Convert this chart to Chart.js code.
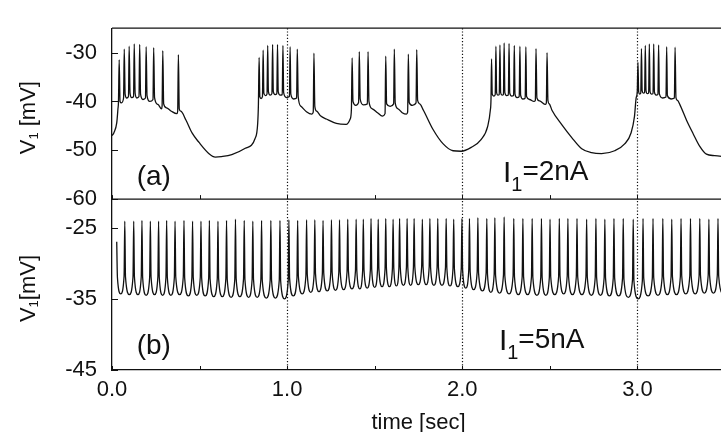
<!DOCTYPE html>
<html><head><meta charset="utf-8">
<script src="https://cdn.jsdelivr.net/npm/chart.js@4/dist/chart.umd.min.js"></script>
<style>html,body{margin:0;padding:0;background:#fff;overflow:hidden;width:721px;height:432px}canvas{display:block}</style>
</head><body>
<canvas id="c" width="732" height="432"></canvas>
<script>
// ---- data ----
const xTickLabels = [0, 1, 2, 3];           // labelled time ticks (sec)
const dottedTimes = [1, 2, 3];              // dotted vertical markers (sec)
const topTickLabels = [-60, -50, -40, -30]; // mV, panel (a)
const botTickLabels = [-45, -35, -25];      // mV, panel (b)
const panelNames = ['(a)', '(b)'];
const currents = ['2nA', '5nA'];

// panel (a): I1 = 2nA, [time s, V1 mV]
const topTrace = [
 [0.000,-47.0],[0.011,-46.4],[0.027,-44.4],[0.034,-41.5],[0.037,-40.0],
 [0.041,-31.5],[0.046,-40.0],[0.054,-40.3],
 [0.066,-39.3],[0.070,-29.3],[0.075,-38.5],[0.084,-39.3],
 [0.094,-39.0],[0.098,-28.7],[0.103,-38.3],[0.112,-39.2],
 [0.123,-39.0],[0.127,-28.2],[0.132,-38.3],[0.142,-39.3],
 [0.154,-39.0],[0.158,-28.3],[0.163,-38.5],[0.177,-39.6],
 [0.191,-39.3],[0.195,-28.8],[0.200,-38.8],[0.216,-40.0],
 [0.234,-39.6],[0.238,-29.0],[0.243,-39.2],[0.262,-40.6],[0.283,-41.5],
 [0.286,-41.0],[0.290,-29.6],[0.295,-40.5],[0.311,-41.3],[0.339,-42.0],[0.370,-42.5],
 [0.375,-42.0],[0.379,-30.4],[0.384,-41.5],[0.393,-42.0],[0.422,-43.8],
 [0.458,-46.5],[0.497,-48.4],[0.554,-50.7],[0.590,-51.4],[0.625,-51.3],[0.684,-50.9],
 [0.761,-49.6],[0.817,-47.6],[0.832,-44.4],[0.836,-40.5],
 [0.840,-31.0],[0.844,-39.0],[0.851,-39.4],
 [0.859,-39.0],[0.863,-29.5],[0.867,-38.3],[0.876,-38.8],
 [0.885,-38.5],[0.889,-28.5],[0.893,-38.0],[0.903,-38.7],
 [0.913,-38.4],[0.917,-28.3],[0.921,-38.0],[0.931,-38.6],
 [0.941,-38.4],[0.945,-28.3],[0.949,-38.0],[0.960,-38.7],
 [0.972,-38.6],[0.976,-28.5],[0.980,-38.2],[0.996,-39.2],
 [1.013,-39.0],[1.017,-28.8],[1.021,-38.5],[1.037,-39.5],
 [1.054,-39.3],[1.058,-29.3],[1.063,-39.0],[1.079,-41.0],[1.110,-42.1],[1.141,-42.6],
 [1.149,-42.2],[1.153,-30.1],[1.158,-41.0],[1.169,-42.0],[1.192,-43.0],[1.224,-43.6],
 [1.281,-44.5],[1.337,-44.7],[1.360,-43.6],
 [1.367,-41.5],[1.371,-31.1],[1.376,-40.0],[1.392,-40.8],
 [1.408,-40.2],[1.412,-29.8],[1.417,-39.5],[1.435,-40.7],
 [1.458,-40.5],[1.462,-29.8],[1.467,-40.0],[1.486,-41.5],[1.516,-42.3],[1.544,-43.0],
 [1.559,-42.5],[1.563,-30.7],[1.568,-40.5],[1.588,-41.0],
 [1.608,-40.5],[1.612,-29.3],[1.617,-40.3],[1.633,-41.5],[1.657,-42.3],[1.681,-42.6],
 [1.688,-42.2],[1.692,-30.3],[1.697,-40.2],[1.715,-40.8],
 [1.736,-40.3],[1.740,-29.4],[1.745,-39.8],[1.757,-40.5],[1.778,-41.8],[1.834,-45.8],
 [1.891,-48.7],[1.947,-50.1],[1.994,-50.2],[2.051,-49.4],[2.107,-47.8],[2.145,-45.1],
 [2.160,-41.8],[2.164,-39.5],
 [2.167,-31.3],[2.171,-38.5],[2.180,-38.9],
 [2.188,-38.6],[2.192,-28.7],[2.196,-38.2],[2.203,-38.7],
 [2.211,-38.6],[2.215,-28.4],[2.219,-38.2],[2.227,-38.7],
 [2.235,-38.6],[2.239,-28.0],[2.243,-38.2],[2.253,-38.8],
 [2.263,-38.7],[2.267,-28.1],[2.271,-38.3],[2.282,-38.9],
 [2.293,-38.8],[2.297,-28.5],[2.301,-38.5],[2.312,-39.2],
 [2.325,-39.0],[2.329,-28.7],[2.333,-38.7],[2.346,-39.5],
 [2.359,-39.3],[2.363,-28.8],[2.367,-39.0],[2.384,-39.6],[2.409,-40.0],
 [2.417,-39.8],[2.421,-29.2],[2.426,-39.3],[2.441,-39.9],[2.475,-40.6],
 [2.480,-40.3],[2.484,-30.0],[2.489,-39.8],[2.497,-40.5],[2.512,-41.8],[2.569,-44.8],
 [2.625,-47.4],[2.682,-49.7],[2.738,-50.5],[2.795,-50.7],[2.870,-50.1],[2.927,-48.7],
 [2.964,-46.4],[2.983,-43.1],[2.993,-39.2],[2.999,-38.0],
 [3.003,-32.0],[3.007,-38.0],[3.013,-38.5],
 [3.019,-38.3],[3.023,-29.2],[3.027,-37.8],[3.034,-38.3],
 [3.041,-38.2],[3.045,-28.5],[3.049,-37.8],[3.056,-38.4],
 [3.064,-38.3],[3.068,-28.2],[3.072,-38.0],[3.080,-38.5],
 [3.089,-38.4],[3.093,-28.2],[3.097,-38.1],[3.107,-38.7],
 [3.117,-38.6],[3.121,-28.4],[3.125,-38.4],[3.144,-39.3],
 [3.163,-39.1],[3.167,-28.8],[3.171,-38.8],[3.192,-39.5],
 [3.211,-39.3],[3.215,-28.9],[3.220,-39.2],[3.229,-39.8],[3.243,-40.7],
 [3.281,-43.9],[3.318,-46.6],[3.356,-49.2],[3.394,-50.8],[3.441,-51.1],[3.500,-51.3]
];

// panel (b): I1 = 5nA, [time s, V1 mV]
const botTrace = [
 [0.027,-27.0],[0.031,-32.0],[0.050,-34.3],[0.069,-31.8],
 [0.073,-24.1],[0.077,-31.9],[0.099,-34.4],[0.120,-31.9],
 [0.124,-24.1],[0.128,-31.9],[0.148,-34.4],[0.167,-31.9],
 [0.171,-24.0],[0.175,-32.0],[0.195,-34.5],[0.215,-32.0],
 [0.219,-24.1],[0.223,-31.9],[0.243,-34.4],[0.262,-31.9],
 [0.266,-24.1],[0.270,-32.0],[0.289,-34.5],[0.308,-32.0],
 [0.312,-24.0],[0.316,-32.0],[0.336,-34.5],[0.356,-32.0],
 [0.360,-24.1],[0.364,-31.9],[0.386,-34.4],[0.407,-31.9],
 [0.411,-24.0],[0.415,-32.1],[0.436,-34.6],[0.456,-32.1],
 [0.460,-24.1],[0.464,-32.0],[0.484,-34.5],[0.504,-32.0],
 [0.508,-24.1],[0.512,-32.1],[0.532,-34.6],[0.552,-32.1],
 [0.556,-24.0],[0.560,-32.2],[0.581,-34.7],[0.601,-32.2],
 [0.605,-24.1],[0.609,-32.2],[0.630,-34.7],[0.650,-32.2],
 [0.654,-24.0],[0.658,-32.3],[0.680,-34.8],[0.701,-32.3],
 [0.705,-23.8],[0.709,-32.2],[0.730,-34.7],[0.751,-32.2],
 [0.755,-24.0],[0.759,-32.3],[0.780,-34.8],[0.800,-32.3],
 [0.804,-24.1],[0.808,-32.3],[0.829,-34.8],[0.850,-32.3],
 [0.854,-24.0],[0.858,-32.4],[0.881,-34.9],[0.903,-32.4],
 [0.907,-24.0],[0.911,-32.4],[0.933,-34.9],[0.955,-32.4],
 [0.959,-24.0],[0.963,-32.5],[0.985,-35.0],[1.006,-32.5],
 [1.010,-23.9],[1.014,-32.1],[1.035,-34.6],[1.056,-32.1],
 [1.060,-24.0],[1.064,-31.8],[1.086,-34.3],[1.107,-31.8],
 [1.111,-23.9],[1.115,-31.6],[1.135,-34.1],[1.154,-31.6],
 [1.158,-23.9],[1.162,-31.5],[1.182,-34.0],[1.201,-31.5],
 [1.205,-24.0],[1.209,-31.4],[1.229,-33.9],[1.249,-31.4],
 [1.253,-23.9],[1.257,-31.3],[1.276,-33.8],[1.295,-31.3],
 [1.299,-23.9],[1.303,-31.2],[1.323,-33.7],[1.342,-31.2],
 [1.346,-23.8],[1.350,-31.1],[1.370,-33.6],[1.390,-31.1],
 [1.394,-23.8],[1.398,-31.1],[1.415,-33.6],[1.431,-31.1],
 [1.435,-23.8],[1.439,-31.0],[1.457,-33.5],[1.475,-31.0],
 [1.479,-23.7],[1.483,-30.9],[1.500,-33.4],[1.516,-30.9],
 [1.520,-23.8],[1.524,-30.8],[1.542,-33.3],[1.559,-30.8],
 [1.563,-23.7],[1.567,-30.8],[1.584,-33.3],[1.601,-30.8],
 [1.605,-23.8],[1.609,-30.7],[1.624,-33.2],[1.638,-30.7],
 [1.642,-23.7],[1.646,-30.6],[1.664,-33.1],[1.681,-30.6],
 [1.685,-23.7],[1.689,-30.6],[1.705,-33.1],[1.721,-30.6],
 [1.725,-23.7],[1.729,-30.5],[1.749,-33.0],[1.768,-30.5],
 [1.772,-23.8],[1.776,-30.5],[1.794,-33.0],[1.811,-30.5],
 [1.815,-23.7],[1.819,-30.6],[1.838,-33.1],[1.856,-30.6],
 [1.860,-23.7],[1.864,-30.6],[1.884,-33.1],[1.904,-30.6],
 [1.908,-23.7],[1.912,-30.7],[1.930,-33.2],[1.947,-30.7],
 [1.951,-23.8],[1.955,-30.8],[1.975,-33.3],[1.994,-30.8],
 [1.998,-23.7],[2.002,-31.0],[2.020,-33.5],[2.037,-31.0],
 [2.041,-23.7],[2.045,-31.2],[2.065,-33.7],[2.085,-31.2],
 [2.089,-23.6],[2.093,-31.4],[2.115,-33.9],[2.136,-31.4],
 [2.140,-23.7],[2.144,-31.6],[2.163,-34.1],[2.182,-31.6],
 [2.186,-23.6],[2.190,-31.7],[2.213,-34.2],[2.235,-31.7],
 [2.239,-23.5],[2.243,-31.8],[2.267,-34.3],[2.290,-31.8],
 [2.294,-23.7],[2.298,-31.9],[2.320,-34.4],[2.342,-31.9],
 [2.346,-23.7],[2.350,-31.9],[2.373,-34.4],[2.395,-31.9],
 [2.399,-23.7],[2.403,-32.0],[2.426,-34.5],[2.448,-32.0],
 [2.452,-23.7],[2.456,-32.0],[2.477,-34.5],[2.497,-32.0],
 [2.501,-23.8],[2.505,-31.9],[2.528,-34.4],[2.550,-31.9],
 [2.554,-23.7],[2.558,-31.8],[2.579,-34.3],[2.599,-31.8],
 [2.603,-23.7],[2.607,-31.9],[2.629,-34.4],[2.651,-31.9],
 [2.655,-23.7],[2.659,-31.9],[2.683,-34.4],[2.706,-31.9],
 [2.710,-23.8],[2.714,-32.0],[2.737,-34.5],[2.759,-32.0],
 [2.763,-23.7],[2.767,-32.0],[2.789,-34.5],[2.810,-32.0],
 [2.814,-23.8],[2.818,-32.1],[2.840,-34.6],[2.862,-32.1],
 [2.866,-23.7],[2.870,-32.1],[2.893,-34.6],[2.915,-32.1],
 [2.919,-23.7],[2.923,-32.3],[2.948,-34.8],[2.972,-32.3],
 [2.976,-23.8],[2.980,-32.5],[3.004,-35.0],[3.028,-32.5],
 [3.032,-23.7],[3.036,-32.1],[3.061,-34.6],[3.085,-32.1],
 [3.089,-23.7],[3.093,-32.0],[3.117,-34.5],[3.141,-32.0],
 [3.145,-23.7],[3.149,-31.9],[3.171,-34.4],[3.192,-31.9],
 [3.196,-23.8],[3.200,-31.9],[3.223,-34.4],[3.245,-31.9],
 [3.249,-23.7],[3.253,-31.8],[3.276,-34.3],[3.299,-31.8],
 [3.303,-23.7],[3.307,-31.8],[3.330,-34.3],[3.352,-31.8],
 [3.356,-23.7],[3.360,-31.7],[3.382,-34.2],[3.404,-31.7],
 [3.408,-23.8],[3.412,-31.7],[3.434,-34.2],[3.456,-31.7],
 [3.460,-23.7],[3.464,-31.8],[3.486,-34.3]
];

// ---- drawing ----
const FONT = '"Liberation Sans", Arial, "DejaVu Sans", sans-serif';
const INK = '#111';

function seg(ctx, x1, y1, x2, y2) { ctx.beginPath(); ctx.moveTo(x1, y1); ctx.lineTo(x2, y2); ctx.stroke(); }

function drawSubLabel(ctx, parts, x, y) {
  let cx = x;
  parts.forEach(([t, size, dy]) => {
    ctx.font = size + 'px ' + FONT;
    ctx.fillText(t, cx, y + dy);
    cx += ctx.measureText(t).width;
  });
}

const decor = {
  id: 'decor',
  afterDraw(c) {
    const { ctx, chartArea: a, scales } = c;
    const x = scales.x, yT = scales.yTop, yB = scales.yBot;
    ctx.save();
    ctx.strokeStyle = INK; ctx.fillStyle = INK;
    ctx.lineWidth = 1.3;
    seg(ctx, a.left, yT.top, a.right, yT.top);
    seg(ctx, a.left, yT.bottom, a.right, yT.bottom);
    ctx.lineWidth = 1;
    [yT, yB].forEach(s => s.ticks.forEach(tk => {
      const py = Math.round(s.getPixelForValue(tk.value)) + 0.5;
      seg(ctx, a.left, py, a.left + 6, py);
    }));
    x.ticks.forEach(tk => {
      const px = Math.round(x.getPixelForValue(tk.value)) + 0.5;
      seg(ctx, px, yT.bottom, px, yT.bottom - 4);
      seg(ctx, px, yB.bottom, px, yB.bottom - 4);
    });
    ctx.setLineDash([1.2, 2]);
    ctx.lineWidth = 1.2;
    dottedTimes.forEach(t => {
      const px = Math.round(x.getPixelForValue(t)) + 0.5;
      seg(ctx, px, a.top, px, a.bottom);
    });
    ctx.setLineDash([]);
    ctx.textAlign = 'left'; ctx.textBaseline = 'middle';
    ctx.font = '28px ' + FONT;
    ctx.fillText(panelNames[0], x.getPixelForValue(0.141), yT.getPixelForValue(-55.6));
    ctx.fillText(panelNames[1], x.getPixelForValue(0.141), yB.getPixelForValue(-41.7));
    ctx.textBaseline = 'alphabetic';
    drawSubLabel(ctx, [['I', 30, 2], ['1', 20, 11], ['=' + currents[0], 28, 0]],
      x.getPixelForValue(2.232), yT.getPixelForValue(-56.0));
    drawSubLabel(ctx, [['I', 30, 2], ['1', 20, 11], ['=' + currents[1], 28, 0]],
      x.getPixelForValue(2.209), yB.getPixelForValue(-41.9));
    [[yT, 'V', ' [mV]'], [yB, 'V', '[mV]']].forEach(([s, v, rest]) => {
      ctx.save();
      const cy = (s.top + s.bottom) / 2 + 4;
      ctx.translate(35, cy);
      ctx.rotate(-Math.PI / 2);
      ctx.font = '22px ' + FONT; const w1 = ctx.measureText(v).width;
      ctx.font = '13px ' + FONT; const w2 = ctx.measureText('1').width;
      ctx.font = '22px ' + FONT; const w3 = ctx.measureText(rest).width;
      const x0 = -(w1 + w2 + w3) / 2;
      ctx.textAlign = 'left'; ctx.textBaseline = 'alphabetic';
      drawSubLabel(ctx, [[v, 22, 0], ['1', 13, 3], [rest, 22, 0]], x0, 0);
      ctx.restore();
    });
    ctx.textAlign = 'center'; ctx.textBaseline = 'alphabetic';
    ctx.font = '22px ' + FONT;
    ctx.fillText('time [sec]', (a.left + a.right) / 2, 429);
    ctx.restore();
  }
};

const tickFont = { family: FONT, size: 22 };
const lineStyle = { borderColor: INK, borderWidth: 1.3, pointRadius: 0,
  cubicInterpolationMode: 'monotone', fill: false };

new Chart(document.getElementById('c'), {
  type: 'line',
  data: {
    datasets: [
      Object.assign({ data: topTrace.map(p => ({ x: p[0], y: p[1] })), yAxisID: 'yTop' }, lineStyle),
      Object.assign({ data: botTrace.map(p => ({ x: p[0], y: p[1] })), yAxisID: 'yBot' }, lineStyle)
    ]
  },
  options: {
    responsive: false, animation: false, events: [],
    layout: { padding: { left: 0, right: 0, top: 14, bottom: 0 } },
    plugins: { legend: { display: false }, tooltip: { enabled: false } },
    scales: {
      x: {
        type: 'linear', min: 0, max: 3.5,
        ticks: { stepSize: 0.5, autoSkip: false, includeBounds: false, maxRotation: 0,
          callback: v => xTickLabels.includes(v) ? v.toFixed(1) : '',
          font: tickFont, color: INK, padding: 7 },
        grid: { display: false, drawTicks: false },
        border: { display: true, color: INK, width: 1.3 },
        afterFit: s => { s.height = 62; }
      },
      yBot: {
        type: 'linear', position: 'left', stack: 'v', stackWeight: 1,
        min: -45, max: -21,
        ticks: { stepSize: 5, includeBounds: false,
          callback: v => botTickLabels.includes(v) ? String(v) : '',
          font: tickFont, color: INK, padding: 15 },
        grid: { display: false, drawTicks: false },
        border: { display: true, color: INK, width: 1.3 },
        afterFit: s => { s.width = 112; }
      },
      yTop: {
        type: 'linear', position: 'left', stack: 'v', stackWeight: 1,
        min: -60, max: -25,
        ticks: { stepSize: 5, includeBounds: false,
          callback: v => topTickLabels.includes(v) ? String(v) : '',
          font: tickFont, color: INK, padding: 15 },
        grid: { display: false, drawTicks: false },
        border: { display: true, color: INK, width: 1.3 },
        afterFit: s => { s.width = 112; }
      }
    }
  },
  plugins: [decor]
});
</script>
</body></html>
